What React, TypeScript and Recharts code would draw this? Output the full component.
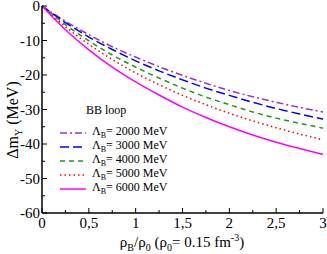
import React from "react";
import { LineChart, Line, XAxis, YAxis } from "recharts";

const xValues = [0, 0.25, 0.5, 0.75, 1, 1.25, 1.5, 1.75, 2, 2.25, 2.5, 2.75, 3];
const lam2000 = [0, -4.4, -8.3, -11.8, -14.8, -17.6, -20.1, -22.4, -24.5, -26.3, -27.9, -29.4, -30.7];
const lam3000 = [0, -4.8, -9.0, -12.6, -15.9, -18.8, -21.4, -23.8, -25.9, -27.9, -29.7, -31.3, -32.8];
const lam4000 = [0, -5.4, -10.1, -14.2, -17.7, -20.9, -23.8, -26.4, -28.6, -30.7, -32.5, -34.0, -35.4];
const lam5000 = [0, -6.0, -11.1, -15.5, -19.4, -22.8, -25.9, -28.6, -31.1, -33.3, -35.3, -37.1, -38.8];
const lam6000 = [0, -6.9, -12.7, -17.7, -22.0, -25.8, -29.3, -32.3, -35.0, -37.4, -39.5, -41.3, -43.0];

const xTicks = [0, 0.25, 0.5, 0.75, 1, 1.25, 1.5, 1.75, 2, 2.25, 2.5, 2.75, 3];
const yTicks = [-60, -55, -50, -45, -40, -35, -30, -25, -20, -15, -10, -5, 0];

const seriesLabels = ["2000", "3000", "4000", "5000", "6000"];
const seriesKeys = ["l2000", "l3000", "l4000", "l5000", "l6000"];
const seriesColors = ["#9933cc", "#0000ff", "#1a9a1a", "#ff0000", "#ff00ff"];
const seriesDash = ["7 3 2 3", "9 4", "5 4", "1.5 3", undefined];

const data = xValues.map((x, i) => ({
  x,
  l2000: lam2000[i],
  l3000: lam3000[i],
  l4000: lam4000[i],
  l5000: lam5000[i],
  l6000: lam6000[i],
}));

const FONT = `"Liberation Serif", "Times New Roman", "Tinos", serif`;

const isMajorX = (v: number) => Math.abs(v * 2 - Math.round(v * 2)) < 1e-6;
const isMajorY = (v: number) => Math.abs(v / 10 - Math.round(v / 10)) < 1e-6;
const fmtX = (v: number) => String(v).replace(".", ",");

const BottomTick = (props: any) => {
  const { x, y, payload } = props;
  const major = isMajorX(payload.value);
  return (
    <g>
      <line x1={x} x2={x} y1={y} y2={y - (major ? 5 : 3)} stroke="#000" strokeWidth={1} />
      {major && (
        <text x={x} y={y + 15} textAnchor="middle" style={{ fontFamily: FONT }} fontSize={15} fill="#000">
          {fmtX(payload.value)}
        </text>
      )}
    </g>
  );
};

const TopTick = (props: any) => {
  const { x, y, payload } = props;
  const major = isMajorX(payload.value);
  return <line x1={x} x2={x} y1={y} y2={y + (major ? 5 : 3)} stroke="#000" strokeWidth={1} />;
};

const LeftTick = (props: any) => {
  const { x, y, payload } = props;
  const major = isMajorY(payload.value);
  return (
    <g>
      <line x1={x} x2={x + (major ? 5 : 3)} y1={y} y2={y} stroke="#000" strokeWidth={1} />
      {major && (
        <text x={x - 2} y={y + 5} textAnchor="end" style={{ fontFamily: FONT }} fontSize={15} fill="#000">
          {payload.value}
        </text>
      )}
    </g>
  );
};

const RightTick = (props: any) => {
  const { x, y, payload } = props;
  const major = isMajorY(payload.value);
  return <line x1={x} x2={x - (major ? 5 : 3)} y1={y} y2={y} stroke="#000" strokeWidth={1} />;
};

export default function App() {
  return (
    <div style={{ position: "absolute", left: 0, top: 0, width: 327, height: 254, background: "#fff" }}>
      <LineChart width={327} height={254} data={data} margin={{ top: 6, right: 4, left: 0, bottom: 0 }}>
        <XAxis
          dataKey="x"
          type="number"
          domain={[0, 3]}
          ticks={xTicks}
          interval={0}
          height={41}
          tickSize={0}
          tickMargin={0}
          tick={<BottomTick />}
          axisLine={{ stroke: "#000", strokeWidth: 1.5 }}
          tickLine={false}
        />
        <XAxis
          xAxisId="top"
          orientation="top"
          dataKey="x"
          type="number"
          domain={[0, 3]}
          ticks={xTicks}
          interval={0}
          height={0}
          tickSize={0}
          tickMargin={0}
          tick={<TopTick />}
          axisLine={{ stroke: "#000", strokeWidth: 1.5 }}
          tickLine={false}
        />
        <YAxis
          type="number"
          domain={[-60, 0]}
          ticks={yTicks}
          interval={0}
          width={42}
          tickSize={0}
          tickMargin={0}
          tick={<LeftTick />}
          axisLine={{ stroke: "#000", strokeWidth: 1.5 }}
          tickLine={false}
        />
        <YAxis
          yAxisId="right"
          orientation="right"
          type="number"
          domain={[-60, 0]}
          ticks={yTicks}
          interval={0}
          width={0}
          tickSize={0}
          tickMargin={0}
          tick={<RightTick />}
          axisLine={{ stroke: "#000", strokeWidth: 1.5 }}
          tickLine={false}
        />
        {seriesKeys.map((k, i) => (
          <Line
            key={k}
            dataKey={k}
            type="monotone"
            stroke={seriesColors[i]}
            strokeWidth={1.5}
            strokeDasharray={seriesDash[i]}
            dot={false}
            activeDot={false}
            isAnimationActive={false}
          />
        ))}
        <text
          transform="translate(18,120) rotate(-90)"
          textAnchor="middle"
          style={{ fontFamily: FONT }}
          fontSize={16}
          fill="#000"
        >
          Δm<tspan fontSize={10} dy={4}>Υ</tspan>
          <tspan dy={-4}> (MeV)</tspan>
        </text>
        <text x={182} y={247} textAnchor="middle" style={{ fontFamily: FONT }} fontSize={15} fill="#000">
          ρ<tspan fontSize={10} dy={4}>B</tspan>
          <tspan dy={-4}>/ρ</tspan>
          <tspan fontSize={10} dy={4}>0</tspan>
          <tspan dy={-4}> (ρ</tspan>
          <tspan fontSize={10} dy={4}>0</tspan>
          <tspan dy={-4}>= 0.15 fm</tspan>
          <tspan fontSize={10} dy={-6}>-3</tspan>
          <tspan dy={6}>)</tspan>
        </text>
      </LineChart>
      <div
        style={{
          position: "absolute",
          left: 58,
          top: 103,
          fontFamily: FONT,
          fontSize: 12,
          color: "#000",
          lineHeight: "14px",
        }}
      >
        <div style={{ paddingLeft: 28, height: 23 }}>BB loop</div>
        {seriesKeys.map((k, i) => (
          <div key={k} style={{ display: "flex", alignItems: "center", height: 14, whiteSpace: "nowrap" }}>
            <svg width={28} height={8} style={{ marginRight: 6 }}>
              <line
                x1={2}
                x2={28}
                y1={4}
                y2={4}
                stroke={seriesColors[i]}
                strokeWidth={1.5}
                strokeDasharray={seriesDash[i]}
              />
            </svg>
            <span>
              Λ<sub style={{ fontSize: 8, verticalAlign: "-3px" }}>B</sub>= {seriesLabels[i]} MeV
            </span>
          </div>
        ))}
      </div>
    </div>
  );
}
